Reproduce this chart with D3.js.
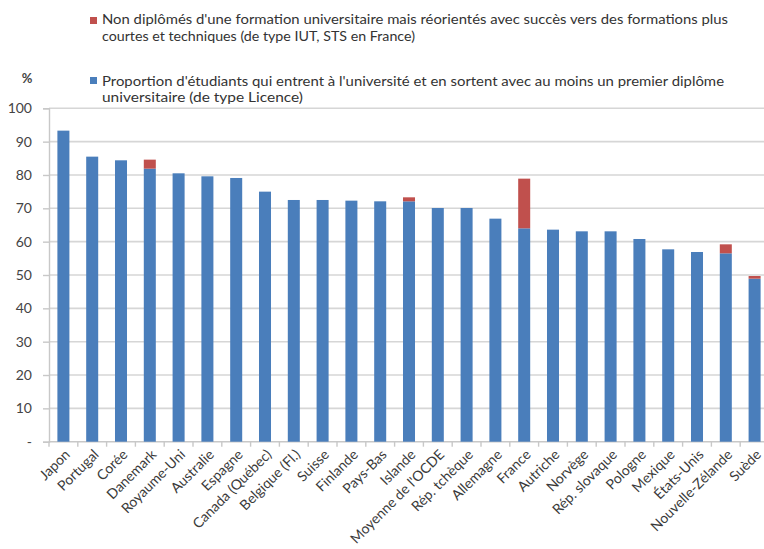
<!DOCTYPE html>
<html><head><meta charset="utf-8">
<script src="https://cdn.jsdelivr.net/npm/d3@7"></script>
<style>body{margin:0;background:#fff}svg{display:block}text{font-family:Lato,"Open Sans",sans-serif}</style>
</head><body><svg id="c" width="764" height="549"></svg>
<script>
const categories = ["Japon","Portugal","Corée","Danemark","Royaume-Uni","Australie","Espagne","Canada (Québec)","Belgique (Fl.)","Suisse","Finlande","Pays-Bas","Islande","Moyenne de l'OCDE","Rép. tchèque","Allemagne","France","Autriche","Norvège","Rép. slovaque","Pologne","Mexique","États-Unis","Nouvelle-Zélande","Suède"];
const licence = [93.3,85.5,84.4,81.9,80.5,79.6,79.1,75.0,72.5,72.5,72.3,72.1,72.1,70.1,70.1,66.9,64.0,63.6,63.1,63.1,60.8,57.7,56.9,56.5,48.9];
const reorientes = [0,0,0,2.7,0,0,0,0,0,0,0,0,1.2,0,0,0,14.9,0,0,0,0,0,0,2.7,0.8];
const yTicks = [0,10,20,30,40,50,60,70,80,90,100];
const legendRed = ["Non diplômés d'une formation universitaire mais réorientés avec succès vers des formations plus","courtes et techniques (de type IUT, STS en France)"];
const legendBlue = ["Proportion d'étudiants qui entrent à l'université et en sortent avec au moins un premier diplôme","universitaire (de type Licence)"];

const svg = d3.select("#c");
const BLUE = "#4a7ebb", RED = "#c0504d";
const x = d3.scaleBand().domain(categories).range([49, 769]).paddingInner(0.583).paddingOuter(0.2915);
const y = d3.scaleLinear().domain([0,100]).range([441.7, 108.3]);

// grid
svg.append("g").selectAll("line").data(yTicks.filter(d=>d>0)).join("line")
  .attr("x1",49).attr("x2",764).attr("y1",d=>y(d)).attr("y2",d=>y(d))
  .attr("stroke","#d6d6d6").attr("stroke-width",1.6);

// y axis
const ya = svg.append("g").attr("transform","translate(49,0)")
  .call(d3.axisLeft(y).tickValues(yTicks).tickSize(6).tickPadding(11).tickFormat(d=>d===0?"-":d));
ya.select(".domain").attr("stroke","#c8c8c8").attr("stroke-width",1.4);
ya.selectAll(".tick line").attr("stroke","#c8c8c8").attr("stroke-width",1.4);
ya.selectAll(".tick text").attr("fill","#444").style("font-size","14px").style("font-family","Lato,sans-serif");

// x axis line + ticks
const step = x.step();
svg.append("line").attr("x1",49).attr("x2",764).attr("y1",y(0)).attr("y2",y(0)).attr("stroke","#c8c8c8").attr("stroke-width",1.4);
svg.append("g").selectAll("line").data(categories).join("line")
  .attr("x1",d=>x(d)-(step-x.bandwidth())/2).attr("x2",d=>x(d)-(step-x.bandwidth())/2)
  .attr("y1",y(0)).attr("y2",y(0)+5).attr("stroke","#c8c8c8").attr("stroke-width",1.4);

// bars
const data = categories.map((c,i)=>({c, a:licence[i], b:reorientes[i]}));
svg.append("g").selectAll("rect").data(data).join("rect")
  .attr("x",d=>x(d.c)).attr("width",x.bandwidth())
  .attr("y",d=>y(d.a)).attr("height",d=>y(0)-y(d.a)).attr("fill",BLUE);
svg.append("g").selectAll("rect").data(data.filter(d=>d.b>0)).join("rect")
  .attr("x",d=>x(d.c)).attr("width",x.bandwidth())
  .attr("y",d=>y(d.a+d.b)).attr("height",d=>y(d.a)-y(d.a+d.b)).attr("fill",RED);

// x labels
svg.append("g").selectAll("text").data(categories).join("text")
  .attr("transform",d=>`translate(${x(d)+x.bandwidth()/2+4},${452}) rotate(-45)`)
  .attr("text-anchor","end").attr("dy","0.35em")
  .attr("fill","#3a3a3a").style("font-size","14px").text(d=>d);

// % label
svg.append("text").attr("x",27).attr("y",83).attr("text-anchor","middle").attr("fill","#444").style("font-size","13px").style("font-weight","bold").text("%");

// legend
const lg = svg.append("g");
lg.append("rect").attr("x",90).attr("y",17).attr("width",7).attr("height",7).attr("fill",RED);
lg.append("rect").attr("x",90).attr("y",77).attr("width",7).attr("height",7).attr("fill",BLUE);
const lw = [[626,313],[622,201]];
[[legendRed,24,41],[legendBlue,86,102]].forEach(([lines,y1,y2],k)=>{
  lg.append("text").attr("x",102).attr("y",y1).attr("fill","#333").style("font-size","14px")
    .attr("textLength",lw[k][0]).attr("lengthAdjust","spacingAndGlyphs").text(lines[0]);
  lg.append("text").attr("x",102).attr("y",y2).attr("fill","#333").style("font-size","14px")
    .attr("textLength",lw[k][1]).attr("lengthAdjust","spacingAndGlyphs").text(lines[1]);
});
</script></body></html>
